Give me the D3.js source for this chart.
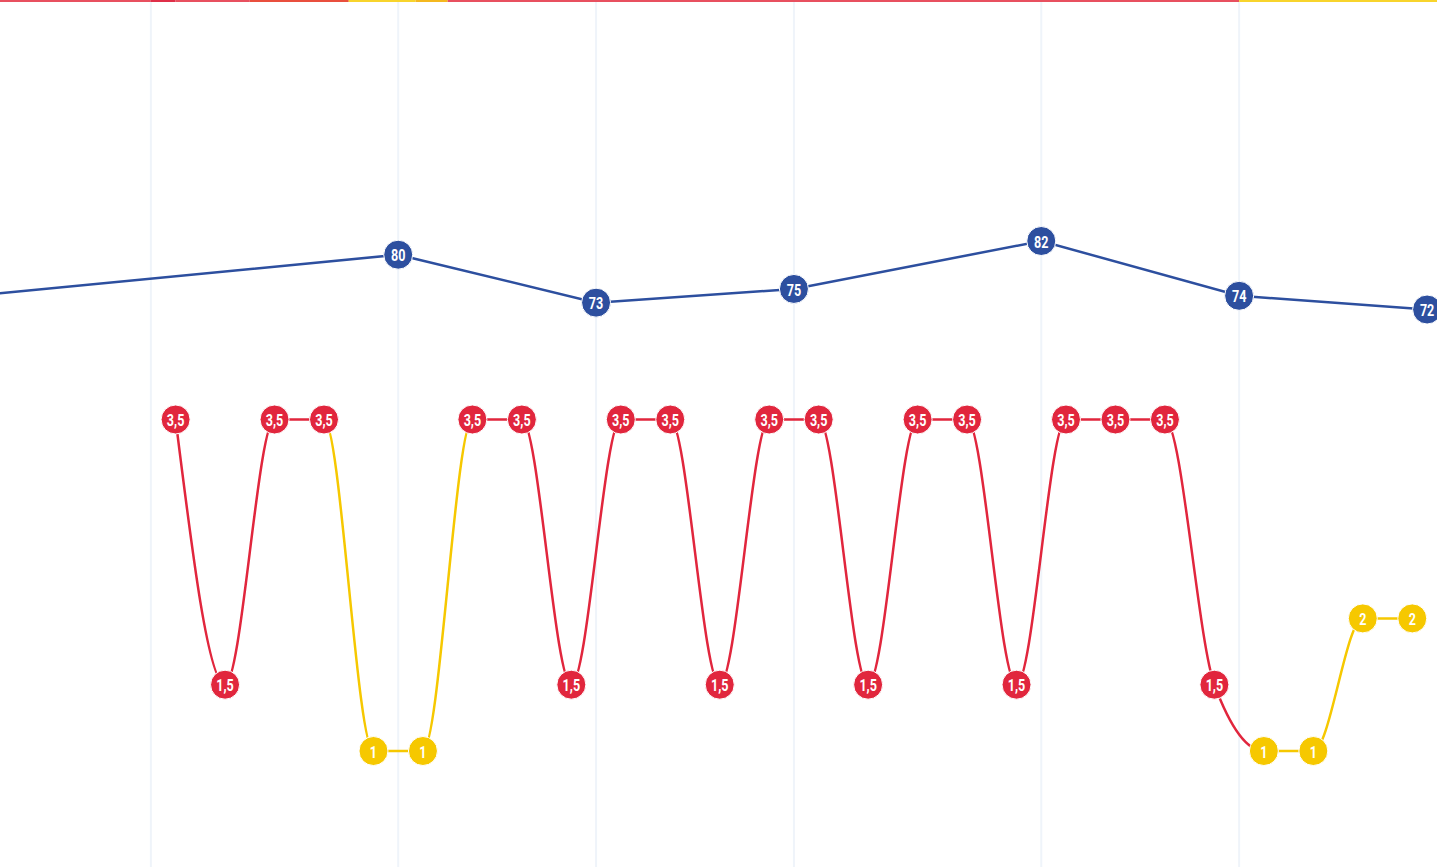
<!DOCTYPE html>
<html lang="en">
<head>
<meta charset="UTF-8">
<title>Daily levels</title>
<style>
    body { margin: 0; background: #fff; overflow: hidden; }
    svg { display: block; }
    .grid line { stroke: #eff4fa; stroke-width: 2; }
    .lbl {
        font-family: Roboto, "DejaVu Sans", sans-serif;
        font-weight: 700;
        font-size: 17px;
        fill: #fff;
        text-anchor: middle;
        dominant-baseline: central;
    }
</style>
</head>
<body>
<svg width="1437" height="867"></svg>
<script src="https://cdn.jsdelivr.net/npm/d3@7"></script>
<script>
// daily level series (day index 0..25)
var levelDays = d3.range(0, 26);
var levelValues = [3.5, 1.5, 3.5, 3.5, 1, 1, 3.5, 3.5, 1.5, 3.5, 3.5, 1.5, 3.5,
                   3.5, 1.5, 3.5, 3.5, 1.5, 3.5, 3.5, 3.5, 1.5, 1, 1, 2, 2];
// status of each point ("r" red / "y" yellow) and of each segment between points
var pointStatus = ["r","r","r","r","y","y","r","r","r","r","r","r","r",
                   "r","r","r","r","r","r","r","r","r","y","y","y","y"];
var segmentStatus = ["r","r","r","y","y","y","r","r","r","r","r","r","r",
                     "r","r","r","r","r","r","r","r","r","y","y","y"];

// weekly score series (first point lies left of the view)
var scoreDays = [-5.5, 4.5, 8.5, 12.5, 17.5, 21.5, 25.3];
var scoreValues = [73, 80, 73, 75, 82, 74, 72];

// period boundaries (gridlines)
var gridDays = [-0.5, 4.5, 8.5, 12.5, 17.5, 21.5];

// top status strip
var stripStart = [-3.6, -0.5, 0, 1.5, 3.5, 4.85, 5.5, 21.5];
var stripEnd   = [-0.5, 0, 1.5, 3.5, 4.85, 5.5, 21.5, 25.6];
var stripColor = ["#e8505f", "#df2f48", "#e8505f", "#e94f3d", "#f8d42c", "#f4b81f", "#e8505f", "#f8d42c"];

var colors = { r: "#e1263d", y: "#f6c800", b: "#2d4f9f" };

var svg = d3.select("svg"),
    width = +svg.attr("width"),
    height = +svg.attr("height");

var x = d3.scaleLinear().domain([-3.55, 25.5]).range([0, width]);
var yLevel = d3.scaleLinear().domain([1, 3.5]).range([751, 419.5]);
var yScore = d3.scaleLinear().domain([72, 82]).range([309.5, 241]);

// gridlines
svg.append("g").attr("class", "grid")
    .selectAll("line")
    .data(gridDays)
    .enter().append("line")
    .attr("x1", function(d) { return x(d); })
    .attr("x2", function(d) { return x(d); })
    .attr("y1", 0)
    .attr("y2", height);

// top strip
svg.append("g").selectAll("rect")
    .data(stripStart)
    .enter().append("rect")
    .attr("x", function(d) { return x(d); })
    .attr("width", function(d, i) { return x(stripEnd[i]) - x(d); })
    .attr("y", 0)
    .attr("height", 2)
    .attr("fill", function(d, i) { return stripColor[i]; });

// score line
var scorePts = scoreDays.map(function(d, i) { return [d, scoreValues[i]]; });
svg.append("path")
    .datum(scorePts)
    .attr("fill", "none")
    .attr("stroke", colors.b)
    .attr("stroke-width", 2.5)
    .attr("d", d3.line()
        .x(function(d) { return x(d[0]); })
        .y(function(d) { return yScore(d[1]); }));

// level line: one monotone curve, clipped per segment colour
var levelPts = levelDays.map(function(d, i) { return [d, levelValues[i]]; });
var levelLine = d3.line()
    .curve(d3.curveMonotoneX)
    .x(function(d) { return x(d[0]); })
    .y(function(d) { return yLevel(d[1]); });

var defs = svg.append("defs");
["r", "y"].forEach(function(s) {
    var clip = defs.append("clipPath").attr("id", "clip-" + s);
    segmentStatus.forEach(function(st, i) {
        if (st !== s) return;
        clip.append("rect")
            .attr("x", x(levelDays[i]))
            .attr("width", x(levelDays[i + 1]) - x(levelDays[i]) + 0.5)
            .attr("y", 0)
            .attr("height", height);
    });
    svg.append("path")
        .datum(levelPts)
        .attr("clip-path", "url(#clip-" + s + ")")
        .attr("fill", "none")
        .attr("stroke", colors[s])
        .attr("stroke-width", 2.5)
        .attr("d", levelLine);
});

var fmt = function(v) { return String(v).replace(".", ","); };

function addLabel(sel) {
    sel.append("text")
        .attr("class", "lbl")
        .attr("dy", 1)
        .attr("transform", "scale(0.74,1)")
        .text(function(d) { return fmt(d[1]); });
}

// score markers (only those inside the view)
var sm = svg.append("g").selectAll("g")
    .data(scorePts.filter(function(d) { return x(d[0]) > 0; }))
    .enter().append("g")
    .attr("transform", function(d) { return "translate(" + x(d[0]) + "," + yScore(d[1]) + ")"; });
sm.append("circle").attr("r", 14.5).attr("fill", colors.b).attr("stroke", "#fff").attr("stroke-width", 1);
addLabel(sm);

// level markers
var lm = svg.append("g").selectAll("g")
    .data(levelPts)
    .enter().append("g")
    .attr("transform", function(d) { return "translate(" + x(d[0]) + "," + yLevel(d[1]) + ")"; });
lm.append("circle").attr("r", 14.5)
    .attr("fill", function(d, i) { return colors[pointStatus[i]]; })
    .attr("stroke", "#fff").attr("stroke-width", 1);
addLabel(lm);
</script>
</body>
</html>
